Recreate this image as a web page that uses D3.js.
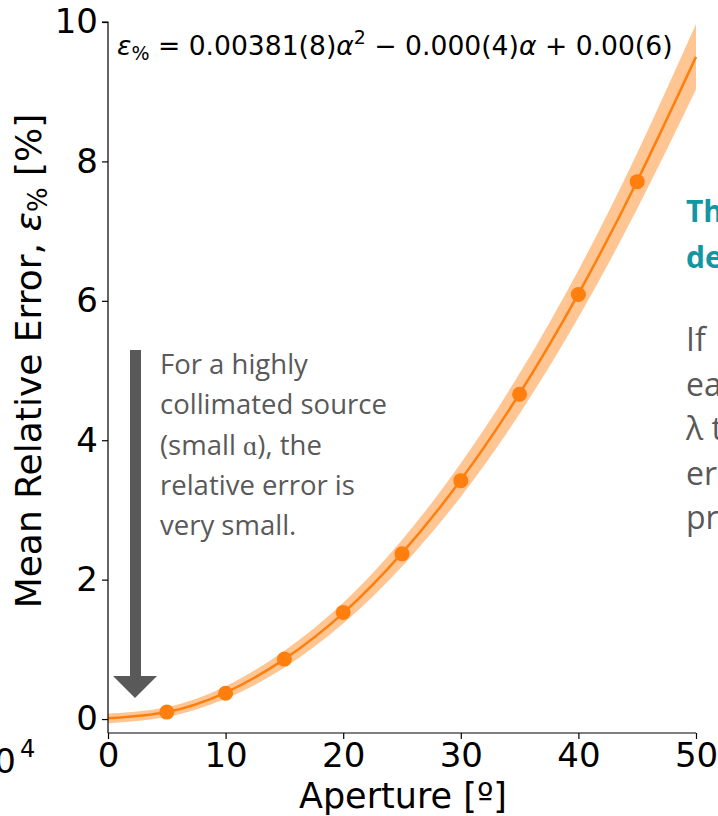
<!DOCTYPE html>
<html>
<head>
<meta charset="utf-8">
<script src="https://cdn.jsdelivr.net/npm/d3@7"></script>
<style>
  body { margin: 0; background: #fff; overflow: hidden; }
  svg { display: block; }
</style>
</head>
<body>
<div id="vis"></div>
<script>
// measured points (aperture in degrees, mean relative error in %)
var alphaPts = [5, 10, 15, 20, 25, 30, 35, 40, 45];
var errPts = [0.10, 0.37, 0.86, 1.53, 2.37, 3.42, 4.66, 6.09, 7.71];

// fitted curve and its band
var fitAlpha = [0, 5, 10, 15, 20, 25, 30, 35, 40, 45, 50];
var fitErr = [0.01, 0.10, 0.38, 0.86, 1.52, 2.38, 3.43, 4.67, 6.10, 7.72, 9.50];
var bandHalf = [0.07, 0.07, 0.09, 0.12, 0.15, 0.19, 0.24, 0.29, 0.34, 0.40, 0.47];

var xTicks = [0, 10, 20, 30, 40, 50];
var yTicks = [0, 2, 4, 6, 8, 10];

var noteLines = ["For a highly", "collimated source", "(small \u0251), the", "relative error is", "very small."];
var sideHead = ["Th", "de"];
var sideBody = ["If", "ea", "\u03bb t", "er", "pr"];

var width = 718, height = 816;
var orange = "#ff7f0e";
var grey = "#595959";

var svg = d3.select("#vis")
  .append("svg")
  .attr("width", width)
  .attr("height", height);

svg.append("rect").attr("width", width).attr("height", height).attr("fill", "#fff");

var x = d3.scaleLinear().domain([0, 50]).range([108, 696]);
var y = d3.scaleLinear().domain([-0.2, 10]).range([733, 22]);

var fitData = fitAlpha.map(function(a, i) {
  return { a: a, v: fitErr[i], h: bandHalf[i] };
});

// band
var area = d3.area()
  .x(d => x(d.a))
  .y0(d => y(d.v - d.h))
  .y1(d => y(d.v + d.h))
  .curve(d3.curveNatural);

svg.append("path")
  .datum(fitData)
  .attr("d", area)
  .attr("fill", orange)
  .attr("fill-opacity", 0.45);

var line = d3.line()
  .x(d => x(d.a))
  .y(d => y(d.v))
  .curve(d3.curveNatural);

svg.append("path")
  .datum(fitData)
  .attr("d", line)
  .attr("fill", "none")
  .attr("stroke", orange)
  .attr("stroke-width", 2.5);

svg.append("g")
  .selectAll("circle")
  .data(alphaPts)
  .enter()
  .append("circle")
  .attr("cx", d => x(d))
  .attr("cy", (d, i) => y(errPts[i]))
  .attr("r", 7.5)
  .attr("fill", orange);

// axes
var xAxis = svg.append("g")
  .attr("transform", "translate(0," + y(-0.2) + ")")
  .call(d3.axisBottom(x).tickValues(xTicks).tickSize(6).tickPadding(4));
var yAxis = svg.append("g")
  .attr("transform", "translate(" + x(0) + ",0)")
  .call(d3.axisLeft(y).tickValues(yTicks).tickSize(6).tickPadding(4));

[xAxis, yAxis].forEach(function(g) {
  g.select(".domain").attr("stroke", "#000").attr("stroke-width", 1.2);
  g.selectAll(".tick line").attr("stroke", "#000").attr("stroke-width", 1.2);
  g.selectAll("text")
    .attr("fill", "#000")
    .style("font-family", "DejaVu Sans")
    .style("font-size", "34px");
});
// keep y domain line only from 10 down (no outer tick)
yAxis.select(".domain").attr("d", "M-6," + y(10) + "H0V" + y(-0.2));
xAxis.select(".domain").attr("d", "M" + x(0) + ",0H" + x(50));

svg.append("text")
  .attr("x", 403)
  .attr("y", 808)
  .attr("text-anchor", "middle")
  .style("font-family", "DejaVu Sans")
  .style("font-size", "35px")
  .text("Aperture [\u00ba]");

var yl = svg.append("text")
  .attr("transform", "translate(41,361) rotate(-90)")
  .attr("text-anchor", "middle")
  .style("font-family", "DejaVu Sans")
  .style("font-size", "36px");
yl.append("tspan").text("Mean Relative Error, ");
yl.append("tspan").style("font-style", "italic").text("\u03b5");
yl.append("tspan").attr("dy", 6).style("font-size", "26px").text("%");
yl.append("tspan").attr("dy", -6).text(" [%]");

// fit formula
var ft = svg.append("text")
  .attr("x", 117)
  .attr("y", 55)
  .style("font-family", "DejaVu Sans")
  .style("font-size", "26.6px");
ft.append("tspan").style("font-style", "italic").text("\u03b5");
ft.append("tspan").attr("dy", 5).style("font-size", "19px").text("%");
ft.append("tspan").attr("dy", -5).text(" = 0.00381(8)");
ft.append("tspan").style("font-style", "italic").text("\u03b1");
ft.append("tspan").attr("dy", -11).style("font-size", "19px").text("2");
ft.append("tspan").attr("dy", 11).text(" \u2212 0.000(4)");
ft.append("tspan").style("font-style", "italic").text("\u03b1");
ft.append("tspan").text(" + 0.00(6)");

// arrow annotation
svg.append("rect")
  .attr("x", 130).attr("y", 350)
  .attr("width", 11).attr("height", 327)
  .attr("fill", grey);
svg.append("path")
  .attr("d", "M113,676L157,676L135,698Z")
  .attr("fill", grey);

svg.append("g")
  .selectAll("text")
  .data(noteLines)
  .enter()
  .append("text")
  .attr("x", 160)
  .attr("y", (d, i) => 374 + i * 40.3)
  .attr("fill", grey)
  .style("font-family", "Open Sans")
  .style("font-size", "27.5px")
  .text(d => d);

// slide text cut by the frame
svg.append("g")
  .selectAll("text")
  .data(sideHead)
  .enter()
  .append("text")
  .attr("x", 686)
  .attr("y", (d, i) => 222 + i * 46)
  .attr("fill", "#1396a3")
  .style("font-family", "Open Sans")
  .style("font-weight", "bold")
  .style("font-size", "30px")
  .text(d => d);

svg.append("g")
  .selectAll("text")
  .data(sideBody)
  .enter()
  .append("text")
  .attr("x", 686)
  .attr("y", (d, i) => 351 + i * 44.5)
  .attr("fill", grey)
  .style("font-family", "Open Sans")
  .style("font-size", "32px")
  .text(d => d);

svg.append("text")
  .attr("x", 16)
  .attr("y", 773)
  .attr("text-anchor", "end")
  .style("font-family", "DejaVu Sans")
  .style("font-size", "34px")
  .text("10");
svg.append("text")
  .attr("x", 20)
  .attr("y", 757)
  .style("font-family", "DejaVu Sans")
  .style("font-size", "24px")
  .text("4");
</script>
</body>
</html>
